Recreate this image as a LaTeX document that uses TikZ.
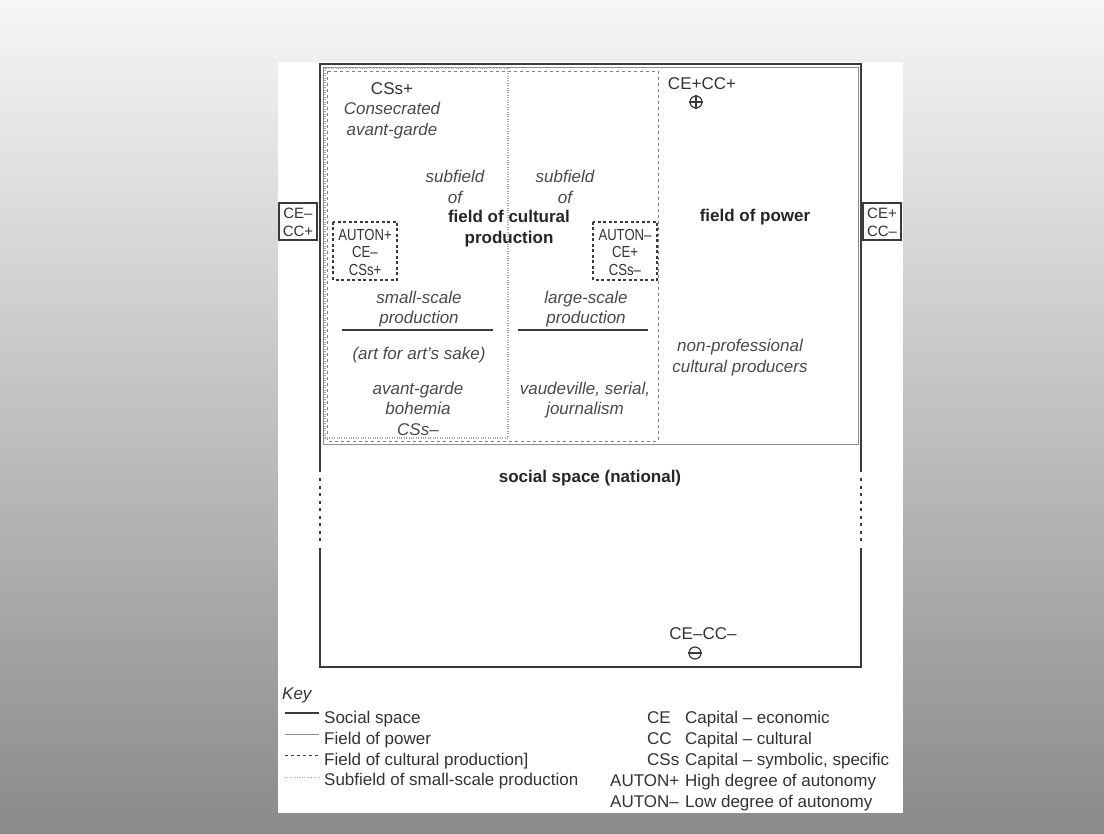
\documentclass[tikz,border=0pt]{standalone}
\usepackage{fontspec}
\setmainfont{Liberation Sans}
\usepackage{graphicx}
\definecolor{bgtop}{HTML}{F6F6F6}
\definecolor{bgmid}{HTML}{C2C2C2}
\definecolor{bgbot}{HTML}{8A8A8A}
\definecolor{txtc}{HTML}{333333}
\definecolor{itc}{HTML}{4A4A4A}
\definecolor{bfc}{HTML}{262626}
\definecolor{linec}{HTML}{3A3A3A}
\definecolor{fopc}{HTML}{8C8C8C}
\definecolor{fcpc}{HTML}{808080}
\definecolor{subc}{HTML}{AAAAAA}
\begin{document}
\begin{tikzpicture}[x=1pt,y=-1pt,
  base/.style={inner sep=0pt, text height=12.2pt, text depth=0pt, anchor=center, text=txtc},
  it/.style={base, font=\fontsize{17}{20}\selectfont\itshape, text=itc},
  rm/.style={base, font=\fontsize{17}{20}\selectfont},
  bf/.style={base, font=\fontsize{17}{20}\selectfont\bfseries, text=bfc},
  cnd/.style={base, font=\fontsize{16}{18}\selectfont, text height=11.5pt},
  sm/.style={base, font=\fontsize{15}{17}\selectfont, text height=10.8pt},
  lg/.style={inner sep=0pt, text height=12.2pt, text depth=0pt, anchor=west, text=txtc, font=\fontsize{17}{20}\selectfont},
  ss/.style={draw=linec, line width=1.6pt},
  ssd/.style={draw=linec, line width=1.6pt, dash pattern=on 3pt off 4.5pt},
  fop/.style={draw=fopc, line width=0.9pt},
  fcp/.style={draw=fcpc, line width=0.9pt, dash pattern=on 3pt off 3pt},
  sub/.style={draw=subc, line width=1.4pt, dash pattern=on 1pt off 1.4pt},
  abox/.style={draw=linec, line width=1.4pt, dash pattern=on 3pt off 2.5pt},
  sbox/.style={draw=linec, line width=1.4pt, fill=white},
  uline/.style={draw=linec, line width=1.4pt},
  sym/.style={circle, draw=linec, line width=1.2pt, minimum size=12pt, inner sep=0pt}
]
\useasboundingbox (0,0) rectangle (1104,834);
\fill[top color=bgtop, middle color=bgmid, bottom color=bgbot] (0,0) rectangle (1104,834);
\fill[white] (278,62) rectangle (903,813);

% fields
\draw[fop] (323,67) rectangle (858,444);
\draw[fcp] (327,71) rectangle (658,441);
\draw[sub] (325,68) rectangle (508,438);

% social space
\draw[ss] (320,472) -- (320,64) -- (861,64) -- (861,472);
\draw[ss] (320,548) -- (320,667) -- (861,667) -- (861,548);
\draw[ssd] (320,478) -- (320,545);
\draw[ssd] (861,478) -- (861,545);

% side boxes
\draw[sbox] (279,203) rectangle (317,240);
\node[sm] (lce) at (298,213) {CE–};
\node[sm] (lcc) at (298,231) {CC+};
\draw[sbox] (863,203) rectangle (901,240);
\node[sm] (rce) at (882,213) {CE+};
\node[sm] (rcc) at (882,231) {CC–};

% left column
\node[rm] (css1) at (392,88) {CSs+};
\node[it] (cons) at (392,108) {Consecrated};
\node[it] (avg1) at (392,129) {avant-garde};
\node[it] (sf1) at (455,176) {subfield};
\node[it] (of1) at (455,197) {of};
\node[it] (sf2) at (565,176) {subfield};
\node[it] (of2) at (565,197) {of};
\node[bf] (fcp1) at (509,216) {field of cultural};
\node[bf] (fcp2) at (509,237) {production};

% AUTON boxes
\draw[abox] (333,222) rectangle (397,280);
\node[cnd] (a1) at (365,235) {\scalebox{0.82}[1]{AUTON+}};
\node[cnd] (a2) at (365,252) {\scalebox{0.82}[1]{CE–}};
\node[cnd] (a3) at (365,270) {\scalebox{0.82}[1]{CSs+}};
\draw[abox] (593,222) rectangle (657,280);
\node[cnd] (b1) at (625,235) {\scalebox{0.82}[1]{AUTON–}};
\node[cnd] (b2) at (625,252) {\scalebox{0.82}[1]{CE+}};
\node[cnd] (b3) at (625,270) {\scalebox{0.82}[1]{CSs–}};

\node[it] (ssc) at (419,297) {small-scale};
\node[it] (prod1) at (419,317) {production};
\coordinate (ul1a) at (342,330);
\coordinate (ul1b) at (493,330);
\draw[uline] (ul1a) -- (ul1b);
\node[it] (art) at (419,353) {(art for art’s sake)};
\node[it] (avg2) at (418,388) {avant-garde};
\node[it] (boh) at (418,408) {bohemia};
\node[it] (css2) at (418,429) {CSs–};

\node[it] (lsc) at (586,297) {large-scale};
\node[it] (prod2) at (586,317) {production};
\coordinate (ul2a) at (518,330);
\coordinate (ul2b) at (648,330);
\draw[uline] (ul2a) -- (ul2b);
\node[it] (vaud) at (585,388) {vaudeville, serial,};
\node[it] (jour) at (585,408) {journalism};

% field of power
\node[rm] (cepp) at (702,83) {CE+CC+};
\node[sym] (plus) at (696,102) {};
\draw[linec, line width=1.2pt] (plus.north) -- (plus.south) (plus.west) -- (plus.east);
\node[bf] (fpow) at (755,215) {field of power};
\node[it] (np1) at (740,345) {non-professional};
\node[it] (np2) at (740,366) {cultural producers};

% social space
\node[bf] (ssn) at (590,476) {social space (national)};
\node[rm] (cemm) at (703,633) {CE–CC–};
\node[sym] (minus) at (695,653) {};
\draw[linec, line width=1.2pt] (minus.west) -- (minus.east);

% key
\node[lg, font=\fontsize{17}{20}\selectfont\itshape] (key) at (282,693) {Key};
\coordinate (k1a) at (285,713); \coordinate (k1b) at (319,713);
\draw[ss] (k1a) -- (k1b);
\node[lg] (k1) at (324,717) {Social space};
\coordinate (k2a) at (285,734); \coordinate (k2b) at (319,734);
\draw[fop] (k2a) -- (k2b);
\node[lg] (k2) at (324,738) {Field of power};
\coordinate (k3a) at (285,755); \coordinate (k3b) at (319,755);
\draw[fcp, draw=linec] (k3a) -- (k3b);
\node[lg] (k3) at (324,759) {Field of cultural production]};
\coordinate (k4a) at (285,777); \coordinate (k4b) at (319,777);
\draw[sub, line width=1pt] (k4a) -- (k4b);
\node[lg] (k4) at (324,779) {Subfield of small-scale production};

\node[lg] (ce) at (647,717) {CE};
\node[lg] (ced) at (685,717) {Capital – economic};
\node[lg] (cc) at (647,738) {CC};
\node[lg] (ccd) at (685,738) {Capital – cultural};
\node[lg] (cs) at (647,759) {CSs};
\node[lg] (csd) at (685,759) {Capital – symbolic, specific};
\node[lg] (ap) at (610,780) {AUTON+};
\node[lg] (apd) at (685,780) {High degree of autonomy};
\node[lg] (am) at (610,801) {AUTON–};
\node[lg] (amd) at (685,801) {Low degree of autonomy};
\end{tikzpicture}
\end{document}
